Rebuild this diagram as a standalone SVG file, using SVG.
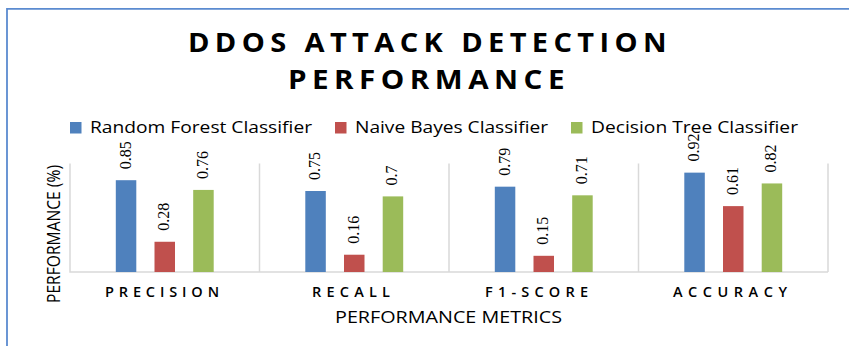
<svg xmlns="http://www.w3.org/2000/svg" width="849" height="346" viewBox="0 0 849 346">
<style>
.title{font-family:"Open Sans","Liberation Sans",sans-serif;font-weight:700;font-size:27px;letter-spacing:5px;fill:#000}
.leg{font-family:"Open Sans","Liberation Sans",sans-serif;font-size:16px;fill:#000}
.cat{font-family:"Open Sans","Liberation Sans",sans-serif;font-weight:600;font-size:14.5px;fill:#000}
.axt{font-family:"Open Sans","Liberation Sans",sans-serif;font-size:16px;fill:#000}
.val{font-family:"Liberation Serif",serif;font-size:16px;fill:#000}
.grid{stroke:#d9d9d9;stroke-width:1.5;fill:none}
.rf{fill:#4F81BD}
.nb{fill:#C0504D}
.dt{fill:#9BBB59}
</style>
<rect x="0" y="0" width="849" height="346" fill="#ffffff"/>
<path d="M7 346 V8.8 H849" fill="none" stroke="#5B8BD0" stroke-width="1.8"/>
<g id="title">
<text class="title" x="188" y="52" textLength="484" lengthAdjust="spacingAndGlyphs">DDOS ATTACK DETECTION</text>
<text class="title" x="288" y="89" textLength="282" lengthAdjust="spacingAndGlyphs">PERFORMANCE</text>
</g>
<g id="legend">
<rect class="rf" x="70" y="122" width="11.5" height="11.5"/>
<text class="leg" x="90" y="133" textLength="222" lengthAdjust="spacingAndGlyphs">Random Forest Classifier</text>
<rect class="nb" x="335" y="122" width="11.5" height="11.5"/>
<text class="leg" x="355" y="133" textLength="193" lengthAdjust="spacingAndGlyphs">Naive Bayes Classifier</text>
<rect class="dt" x="571" y="122" width="11.5" height="11.5"/>
<text class="leg" x="591" y="133" textLength="207" lengthAdjust="spacingAndGlyphs">Decision Tree Classifier</text>
</g>
<g id="axes">
<path class="grid" d="M70 163.5 V272 H828 M259.5 163.5 V272 M449 163.5 V272 M638.5 163.5 V272 M828 163.5 V272"/>
<text class="axt" transform="translate(59.5,234) rotate(-90)" text-anchor="middle" textLength="138" lengthAdjust="spacingAndGlyphs" style="font-size:17.5px">PERFORMANCE (%)</text>
<text class="axt" x="335" y="323" textLength="227" lengthAdjust="spacingAndGlyphs">PERFORMANCE METRICS</text>
</g>
<g id="precision">
<rect class="rf" x="115.8" y="180.2" width="20.5" height="91.8"/>
<rect class="nb" x="154.5" y="241.76" width="20.5" height="30.24"/>
<rect class="dt" x="193.2" y="189.92" width="20.5" height="82.08"/>
<text class="val" transform="translate(130.5,169.2) rotate(-90)">0.85</text>
<text class="val" transform="translate(169.2,230.8) rotate(-90)">0.28</text>
<text class="val" transform="translate(207.9,178.9) rotate(-90)">0.76</text>
<text class="cat" x="105" y="296.7" textLength="114">PRECISION</text>
</g>
<g id="recall">
<rect class="rf" x="305.3" y="191" width="20.5" height="81"/>
<rect class="nb" x="344" y="254.72" width="20.5" height="17.28"/>
<rect class="dt" x="382.7" y="196.4" width="20.5" height="75.6"/>
<text class="val" transform="translate(320,180) rotate(-90)">0.75</text>
<text class="val" transform="translate(358.7,243.7) rotate(-90)">0.16</text>
<text class="val" transform="translate(397.4,185.4) rotate(-90)">0.7</text>
<text class="cat" x="312" y="296.7" textLength="78">RECALL</text>
</g>
<g id="f1score">
<rect class="rf" x="494.8" y="186.68" width="20.5" height="85.32"/>
<rect class="nb" x="533.5" y="255.8" width="20.5" height="16.2"/>
<rect class="dt" x="572.2" y="195.32" width="20.5" height="76.68"/>
<text class="val" transform="translate(509.5,175.7) rotate(-90)">0.79</text>
<text class="val" transform="translate(548.2,244.8) rotate(-90)">0.15</text>
<text class="val" transform="translate(586.9,184.3) rotate(-90)">0.71</text>
<text class="cat" x="485" y="296.7" textLength="103">F1-SCORE</text>
</g>
<g id="accuracy">
<rect class="rf" x="684.3" y="172.64" width="20.5" height="99.36"/>
<rect class="nb" x="723" y="206.12" width="20.5" height="65.88"/>
<rect class="dt" x="761.7" y="183.44" width="20.5" height="88.56"/>
<text class="val" transform="translate(699,161.6) rotate(-90)">0.92</text>
<text class="val" transform="translate(737.7,195.1) rotate(-90)">0.61</text>
<text class="val" transform="translate(776.4,172.4) rotate(-90)">0.82</text>
<text class="cat" x="673" y="296.7" textLength="114">ACCURACY</text>
</g>
</svg>
